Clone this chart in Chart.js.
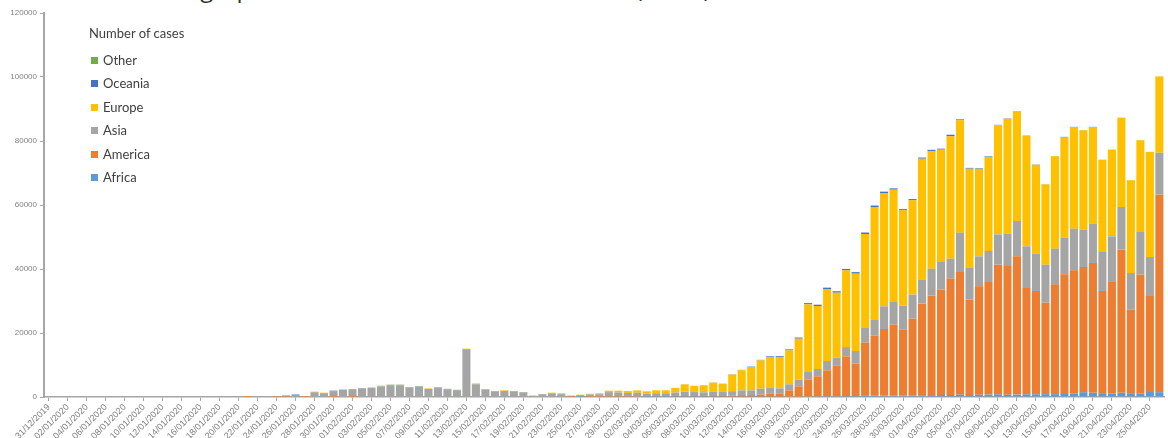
<!DOCTYPE html>
<html>
<head>
<meta charset="utf-8">
<script src="https://cdn.jsdelivr.net/npm/chart.js@4/dist/chart.umd.min.js"></script>
<style>
html,body{margin:0;padding:0;background:#fff;}
#wrap{position:relative;width:1168px;height:438px;overflow:hidden;}
#c{position:absolute;left:0;top:0;}
#title{position:absolute;left:155px;top:-29px;font:24px "Open Sans",sans-serif;color:#333;white-space:nowrap;}
.lg{position:absolute;font:13px Lato,"Open Sans",sans-serif;color:#404040;white-space:nowrap;line-height:16px;}
.bx{display:inline-block;width:7px;height:7px;margin-right:5px;vertical-align:1px;}
</style>
</head>
<body>
<div id="wrap">
  <div id="title">Geographic distribution of COVID-19 cases (ECDC)</div>
  <canvas id="c" width="1168" height="438"></canvas>
</div>
<script>
const dates = [
"31/12/2019",
"01/01/2020","02/01/2020","03/01/2020","04/01/2020","05/01/2020","06/01/2020","07/01/2020","08/01/2020","09/01/2020","10/01/2020",
"11/01/2020","12/01/2020","13/01/2020","14/01/2020","15/01/2020","16/01/2020","17/01/2020","18/01/2020","19/01/2020","20/01/2020",
"21/01/2020","22/01/2020","23/01/2020","24/01/2020","25/01/2020","26/01/2020","27/01/2020","28/01/2020","29/01/2020","30/01/2020","31/01/2020",
"01/02/2020","02/02/2020","03/02/2020","04/02/2020","05/02/2020","06/02/2020","07/02/2020","08/02/2020","09/02/2020","10/02/2020",
"11/02/2020","12/02/2020","13/02/2020","14/02/2020","15/02/2020","16/02/2020","17/02/2020","18/02/2020","19/02/2020","20/02/2020",
"21/02/2020","22/02/2020","23/02/2020","24/02/2020","25/02/2020","26/02/2020","27/02/2020","28/02/2020","29/02/2020",
"01/03/2020","02/03/2020","03/03/2020","04/03/2020","05/03/2020","06/03/2020","07/03/2020","08/03/2020","09/03/2020","10/03/2020",
"11/03/2020","12/03/2020","13/03/2020","14/03/2020","15/03/2020","16/03/2020","17/03/2020","18/03/2020","19/03/2020","20/03/2020",
"21/03/2020","22/03/2020","23/03/2020","24/03/2020","25/03/2020","26/03/2020","27/03/2020","28/03/2020","29/03/2020","30/03/2020","31/03/2020",
"01/04/2020","02/04/2020","03/04/2020","04/04/2020","05/04/2020","06/04/2020","07/04/2020","08/04/2020","09/04/2020","10/04/2020",
"11/04/2020","12/04/2020","13/04/2020","14/04/2020","15/04/2020","16/04/2020","17/04/2020","18/04/2020","19/04/2020","20/04/2020",
"21/04/2020","22/04/2020","23/04/2020","24/04/2020","25/04/2020","26/04/2020"
];

const africa = [
0,0,0,0,0,0,0,0,0,0,
0,0,0,0,0,0,0,0,0,0,
0,0,0,0,0,0,0,0,0,0,
0,0,0,0,0,0,0,0,0,0,
0,0,0,0,0,0,0,0,0,0,
0,0,0,0,0,0,1,0,0,0,
0,0,0,1,2,3,5,8,10,15,
20,30,40,50,60,70,90,100,120,150,
180,200,230,250,300,320,350,400,450,500,
480,520,550,600,650,620,700,650,700,750,
800,700,750,800,850,900,900,950,1100,1500,
1300,1200,1000,1300,1200,1100,1600,1500
];
const america = [
0,0,0,0,0,0,0,0,0,0,
0,0,0,0,0,0,0,0,0,0,
0,1,0,0,1,1,0,1,0,0,
1,0,1,0,0,0,0,0,0,0,
0,0,0,0,0,0,0,0,0,0,
0,0,0,0,0,2,10,20,20,30,
30,50,80,70,80,80,110,160,140,150,
180,260,380,530,540,730,910,1000,1960,3180,
5320,6260,8100,9550,12400,10080,16650,18770,20800,22100,
20620,23960,28620,31070,32890,36380,38360,29770,33880,35190,
40550,40240,43210,33260,32275,28580,34310,37380,38480,39125,
40575,31925,35150,44740,26090,37130,30170,61730
];
const asia = [
27,0,0,0,0,0,0,0,0,0,
0,0,0,1,0,1,1,0,4,17,
60,80,100,120,150,400,700,300,1500,1200,
1850,2200,2450,2700,2850,3350,3700,3700,3000,3300,
2550,2800,2450,2150,14950,3950,2400,1800,1900,1750,
1420,330,800,1170,880,330,580,800,850,1500,
1400,1200,1250,1000,1100,1100,1300,1500,1400,1300,
1400,1300,1400,1500,1480,1800,1800,1600,1880,2070,
2300,2290,2920,2500,2900,3975,4560,5100,7080,7090,
7400,7520,7500,8430,8650,6230,12290,10000,9380,9685,
9480,10100,11040,13020,11665,11870,11140,11460,13020,11665,
12295,12185,14050,13335,11460,13330,11980,13120
];
const europe = [
0,0,0,0,0,0,0,0,0,0,
0,0,0,0,0,0,0,0,0,0,
0,0,0,0,2,1,0,5,170,150,
0,0,0,0,170,190,0,0,0,0,
150,0,0,0,150,0,100,0,180,0,
0,0,0,180,0,0,140,200,300,450,
550,600,750,700,900,900,1400,2300,1900,2200,
2900,2500,5200,6300,7295,8860,9700,9800,10620,12830,
21160,19690,22500,20300,23980,24165,29340,35105,35420,35110,
29830,29460,37810,36800,35110,38230,35110,30930,27390,29375,
34070,35940,34270,34480,27810,25110,28850,31460,31775,31040,
30205,28860,27100,27925,28960,28640,32810,23850
];
const oceania = [
0,0,0,0,0,0,0,0,0,0,
0,0,0,0,0,0,0,0,0,0,
0,0,0,0,0,100,130,0,0,0,
130,90,0,100,0,0,0,0,0,0,
0,0,0,0,0,0,0,0,0,0,
0,0,0,0,160,0,0,0,0,0,
5,5,10,10,15,15,20,20,25,30,
40,60,80,100,120,150,200,250,300,350,
380,400,420,450,450,480,500,450,420,400,
380,400,350,350,300,500,300,250,200,180,
150,120,100,100,80,60,50,50,40,40,
40,30,40,30,30,30,20,20
];
const other = [
0,0,0,0,0,0,0,0,0,0,
0,0,0,0,0,0,0,0,0,0,
0,0,0,0,0,0,0,0,0,0,
0,0,0,0,0,0,150,150,125,140,
0,200,100,100,0,220,0,75,0,125,
140,90,140,0,0,90,0,0,0,0,
0,0,0,0,0,0,0,0,0,0,
0,0,0,0,0,0,0,0,0,0,
0,0,0,0,0,0,0,0,0,0,
0,0,0,0,0,0,0,0,0,0,
0,0,0,0,0,0,0,0,0,0,
0,0,0,0,0,0,0,0
];

const seriesNames = ["Africa","America","Asia","Europe","Oceania","Other"];
const seriesData = [africa, america, asia, europe, oceania, other];
const seriesColors = ["#5B9BD5","#ED7D31","#A5A5A5","#FFC000","#4472C4","#70AD47"];
const yTicks = [0,20000,40000,60000,80000,100000,120000];
const legendTitle = "Number of cases";

// HTML legend (reverse order, as in reference)
const wrap = document.getElementById('wrap');
const t = document.createElement('div');
t.className = 'lg'; t.style.left = '89px'; t.style.top = '25px'; t.textContent = legendTitle;
wrap.appendChild(t);
const order = seriesNames.map((n,i)=>i).reverse();
order.forEach((idx, k) => {
  const d = document.createElement('div');
  d.className = 'lg';
  d.style.left = '91px';
  d.style.top = (52 + k*23.4) + 'px';
  const b = document.createElement('span');
  b.className = 'bx'; b.style.background = seriesColors[idx];
  d.appendChild(b);
  d.appendChild(document.createTextNode(seriesNames[idx]));
  wrap.appendChild(d);
});

new Chart(document.getElementById('c'), {
  type: 'bar',
  data: {
    labels: dates,
    datasets: seriesNames.map((n, k) => ({
      label: n,
      data: seriesData[k],
      backgroundColor: seriesColors[k],
      borderWidth: 0,
      barPercentage: 0.85,
      categoryPercentage: 1.0
    }))
  },
  options: {
    responsive: false,
    animation: false,
    layout: { padding: { top: 13, right: 0, left: 0, bottom: 0 } },
    plugins: { legend: { display: false }, tooltip: { enabled: false }, title: { display: false } },
    scales: {
      x: {
        stacked: true,
        offset: true,
        grid: {
          display: true, drawOnChartArea: false, drawTicks: true, tickLength: 4, offset: false,
          color: (ctx) => (ctx.index % 2 === 0 ? '#a6a6a6' : 'rgba(0,0,0,0)')
        },
        border: { color: '#a6a6a6', width: 1.5 },
        ticks: {
          autoSkip: false, minRotation: 45, maxRotation: 45, padding: 1,
          font: { size: 9, family: 'Liberation Sans' }, color: '#808080',
          callback: (v, i) => (i % 2 === 0 ? dates[i] : '')
        },
        afterFit: (s) => { s.height = 41; }
      },
      y: {
        stacked: true,
        min: 0, max: 120000,
        afterBuildTicks: (s) => { s.ticks = yTicks.map(v => ({ value: v })); },
        ticks: {
          font: { size: 8, family: 'Liberation Sans' }, color: '#808080', padding: 3,
          callback: (v) => String(v)
        },
        grid: { drawOnChartArea: false, drawTicks: true, tickLength: 4, color: '#a6a6a6' },
        border: { color: '#a6a6a6', width: 2 },
        afterFit: (s) => { s.width = 44; }
      }
    }
  }
});
</script>
</body>
</html>
